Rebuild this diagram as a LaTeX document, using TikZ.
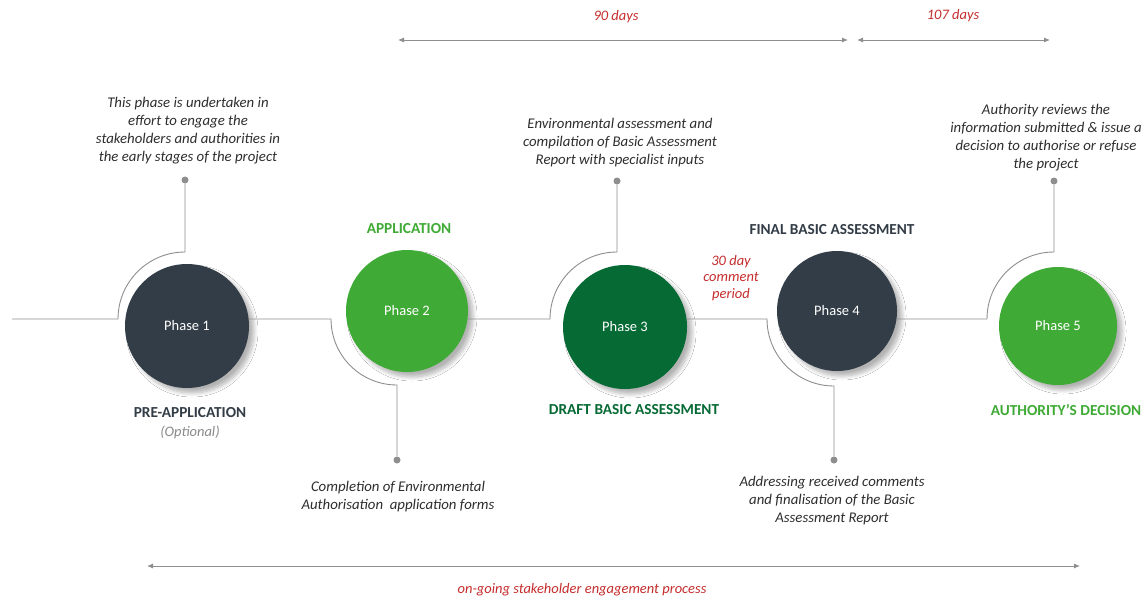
\documentclass[tikz,border=0pt]{standalone}
\usepackage{fontspec}
\setmainfont{Carlito}
\usetikzlibrary{shadows.blur,arrows.meta}
\definecolor{darkslate}{HTML}{333D47}
\definecolor{lightgreen}{HTML}{3FAA35}
\definecolor{deepgreen}{HTML}{066A35}
\definecolor{linegray}{HTML}{8E8E8E}
\definecolor{textgray}{HTML}{2E2E2E}
\definecolor{redtext}{HTML}{C62D2D}
\definecolor{optgray}{HTML}{8A8A8A}
\begin{document}
\begin{tikzpicture}[x=1pt,y=-1pt,
  phasecirc/.style={circle, inner sep=0pt, minimum size=#1, text=white,
    font=\fontsize{14.5}{17}\selectfont,
    blur shadow={shadow xshift=5pt, shadow yshift=-5pt, shadow blur radius=4pt, shadow blur steps=8, shadow opacity=30}},
  conn/.style={draw=linegray, line width=0.9pt},
  dotnode/.style={circle, fill=linegray, inner sep=0pt, minimum size=7pt},
  desc/.style={align=center, text=textgray, font=\fontsize{14.8}{18}\itshape\selectfont},
  heading/.style={align=center, font=\fontsize{15.3}{17}\bfseries\selectfont},
  redlabel/.style={align=center, text=redtext, font=\fontsize{14.5}{16.5}\itshape\selectfont},
  dimarrow/.style={draw=linegray, line width=0.9pt, {Latex[length=6pt,width=5pt]}-{Latex[length=6pt,width=5pt]}}
]
\fill[white] (0,0) rectangle (1147,599);
\useasboundingbox (0,0) rectangle (1147,599);

% phase circles
\node[phasecirc=124pt, fill=darkslate] (p1) at (187,326) {Phase 1};
\node[phasecirc=122pt, fill=lightgreen] (p2) at (407,311) {Phase 2};
\node[phasecirc=124pt, fill=deepgreen] (p3) at (625,327) {Phase 3};
\node[phasecirc=120pt, fill=darkslate] (p4) at (837,311) {Phase 4};
\node[phasecirc=118pt, fill=lightgreen] (p5) at (1058,326) {Phase 5};

% dots
\node[dotnode] (d1) at (185,180) {};
\node[dotnode] (d2) at (397,460) {};
\node[dotnode] (d3) at (617,181) {};
\node[dotnode] (d4) at (834,460) {};
\node[dotnode] (d5) at (1054,181) {};

% coordinates of the main line
\coordinate (a0) at (12,319);
\coordinate (a1) at (118,319);
\coordinate (b1) at (331,319);
\coordinate (c1) at (550,319);
\coordinate (e1) at (767,319);
\coordinate (f1) at (987,319);

% connectors
\draw[conn] (a0) -- (a1) arc[start angle=180, end angle=90, radius=67pt] -- (d1);
\draw[conn] (p1.east |- a1) -- (b1) arc[start angle=180, end angle=270, radius=66pt] -- (d2);
\draw[conn] (p2.east |- c1) -- (c1) arc[start angle=180, end angle=90, radius=67pt] -- (d3);
\draw[conn] (p3.east |- e1) -- (e1) arc[start angle=180, end angle=270, radius=67pt] -- (d4);
\draw[conn] (p4.east |- f1) -- (f1) arc[start angle=180, end angle=90, radius=67pt] -- (d5);

% descriptions
\node[desc] (t1) at (188,131) {This phase is undertaken in\\effort to engage the\\stakeholders and authorities in\\the early stages of the project};
\node[desc] (t2) at (398,497) {Completion of Environmental\\Authorisation~ application forms};
\node[desc] (t3) at (620,143) {Environmental assessment and\\compilation of Basic Assessment\\Report with specialist inputs};
\node[desc] (t4) at (832,501) {Addressing received comments\\and finalisation of the Basic\\Assessment Report};
\node[desc] (t5) at (1046,138) {Authority reviews the\\information submitted \& issue a\\decision to authorise or refuse\\the project};

% headings
\node[heading, text=darkslate] (h1) at (190,413) {PRE-APPLICATION};
\node[text=optgray, font=\fontsize{14.5}{17}\itshape\selectfont] (h1b) at (190,432) {(Optional)};
\node[heading, text=lightgreen] (h2) at (409,229) {APPLICATION};
\node[heading, text=deepgreen] (h3) at (634,410) {DRAFT BASIC ASSESSMENT};
\node[heading, text=darkslate] (h4) at (832,230) {FINAL BASIC ASSESSMENT};
\node[heading, text=lightgreen] (h5) at (1066,410) {AUTHORITY’S DECISION};

\node[redlabel] (cp) at (731,278) {30 day\\comment\\period};

% durations
\coordinate (m1a) at (398,40);
\coordinate (m1b) at (848,40);
\coordinate (m2a) at (857,40);
\coordinate (m2b) at (1050,40);
\draw[dimarrow] (m1a) -- (m1b);
\draw[dimarrow] (m2a) -- (m2b);
\node[redlabel] (l90) at (616,17) {90 days};
\node[redlabel] (l107) at (953,16) {107 days};

% ongoing engagement
\coordinate (s1) at (147,566);
\coordinate (s2) at (1080,566);
\draw[dimarrow] (s1) -- (s2);
\node[redlabel] (ls) at (582,590) {on-going stakeholder engagement process};
\end{tikzpicture}
\end{document}
